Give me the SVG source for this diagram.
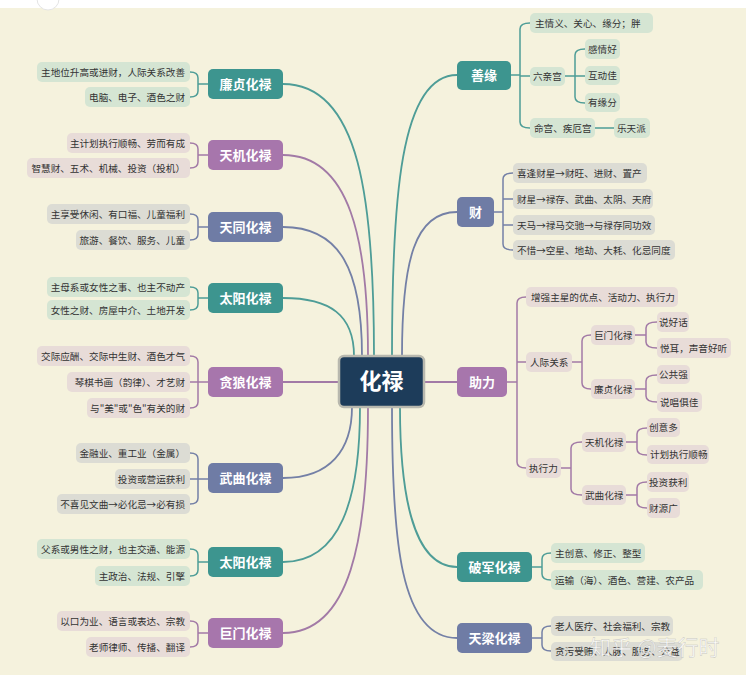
<svg xmlns="http://www.w3.org/2000/svg" width="746" height="675" viewBox="0 0 746 675">
<style>
text{font-family:"Noto Sans CJK SC","Noto Sans",sans-serif;}
.lf{font-size:9.6px;fill:#333;}
.nd{font-size:13px;font-weight:bold;fill:#fff;text-anchor:middle;}
.nt{fill:#3d958f;} .np{fill:#a776ac;} .ns{fill:#6f7ca5;}
.bt{fill:#d5e5d3;} .bp{fill:#e8dcd8;} .bs{fill:#dcdcd4;}
.ct{stroke:#4e9d97;} .cp{stroke:#a27aa6;} .cs{stroke:#7480a6;}
.c path{fill:none;stroke-width:1.8;}
.br path{fill:none;stroke-width:1.5;}
.e{text-anchor:end;}
</style>
<rect x="0" y="0" width="746" height="675" fill="#f5f2dd"/>
<rect x="0" y="0" width="746" height="8" fill="#ffffff"/>
<circle cx="48" cy="-1" r="11" fill="#ffffff" stroke="#e4e4e4" stroke-width="1"/>

<g id="connectors" class="c">
<path class="ct" d="M283,84 C360,84 374,200 374,356"/>
<path class="cp" d="M283,155 C350,155 368,240 368,356"/>
<path class="cs" d="M283,227 C340,227 362,270 362,356"/>
<path class="ct" d="M283,298 C330,298 354,315 354,356"/>
<path class="cp" d="M283,382 H339"/>
<path class="cs" d="M283,478 C330,478 352,450 352,407"/>
<path class="ct" d="M283,562 C340,562 360,500 360,407"/>
<path class="cp" d="M283,633 C350,633 368,540 368,407"/>
<path class="ct" d="M457,75 C400,75 392,200 392,356"/>
<path class="cs" d="M457,212 C415,212 402,260 402,356"/>
<path class="cp" d="M424,382 H457"/>
<path class="ct" d="M457,567 C412,567 400,490 400,407"/>
<path class="cs" d="M457,638 C400,638 392,540 392,407"/>
</g>

<g id="brackets" class="br">
<path class="ct" d="M190,72 Q198,72 198,78 V91 Q198,97 190,97 M198,84 H208"/>
<path class="cp" d="M190,143 Q198,143 198,149 V162 Q198,168 190,168 M198,155 H208"/>
<path class="cs" d="M190,214 Q198,214 198,220 V234 Q198,240 190,240 M198,227 H208"/>
<path class="ct" d="M190,287 Q198,287 198,293 V304 Q198,310 190,310 M198,298 H208"/>
<path class="cp" d="M190,356 Q198,356 198,362 V402 Q198,408 190,408 M190,382 H208"/>
<path class="cs" d="M190,453 Q198,453 198,459 V498 Q198,504 190,504 M190,479 H208"/>
<path class="ct" d="M190,549 Q198,549 198,555 V570 Q198,576 190,576 M198,562 H208"/>
<path class="cp" d="M190,621 Q198,621 198,627 V641 Q198,647 190,647 M198,633 H208"/>
<path class="ct" d="M511,75 H520 M530,23 Q520,23 520,29 V122 Q520,128 530,128 M520,76 H530 M565,76 H585 M585,49 Q575,49 575,55 V97 Q575,103 585,103 M595,128 H614"/>
<path class="cs" d="M494,212 H503 M513,173 Q503,173 503,179 V244 Q503,250 513,250 M503,199 H513 M503,225 H513"/>
<path class="cp" d="M507,382 H517 M526,297 Q517,297 517,303 V462 Q517,468 526,468 M517,362 H526 M572,362 H582 M591,335 Q582,335 582,341 V383 Q582,389 591,389 M635,335 H646 M657,322 Q646,322 646,328 V342 Q646,348 657,348 M635,389 H646 M657,375 Q646,375 646,381 V396 Q646,402 657,402 M561,468 H571 M582,442 Q571,442 571,448 V489 Q571,495 582,495 M626,442 H637 M647,428 Q637,428 637,434 V449 Q637,455 647,455 M626,495 H637 M647,482 Q637,482 637,488 V502 Q637,508 647,508"/>
<path class="ct" d="M532,567 H542 M551,553 Q542,553 542,559 V574 Q542,580 551,580"/>
<path class="cs" d="M532,638 H542 M551,626 Q542,626 542,632 V645 Q542,651 551,651"/>
</g>

<g id="center">
<rect x="339" y="356" width="85" height="51" rx="5" fill="#1d3c5a" stroke="#b8b8ae" stroke-width="2.5"/>
<text x="381.5" y="389" font-size="22" font-weight="bold" fill="#fff" text-anchor="middle">化禄</text>
</g>

<g id="lianzhen">
<rect class="nt" x="208" y="69" width="75" height="30" rx="5"/><text class="nd" x="245.5" y="89">廉贞化禄</text>
<rect class="bt" x="37" y="62" width="153" height="20" rx="5"/><text class="lf e" x="185" y="76">主地位升高或进财，人际关系改善</text>
<rect class="bt" x="85" y="87" width="105" height="20" rx="5"/><text class="lf e" x="185" y="101">电脑、电子、酒色之财</text>
</g>
<g id="tianji">
<rect class="np" x="208" y="140" width="75" height="30" rx="5"/><text class="nd" x="245.5" y="160">天机化禄</text>
<rect class="bp" x="67" y="133" width="123" height="20" rx="5"/><text class="lf e" x="185" y="147">主计划执行顺畅、劳而有成</text>
<rect class="bp" x="27" y="158" width="163" height="20" rx="5"/><text class="lf e" x="185" y="172">智慧财、五术、机械、投资（投机）</text>
</g>
<g id="tiantong">
<rect class="ns" x="208" y="212" width="75" height="30" rx="5"/><text class="nd" x="245.5" y="232">天同化禄</text>
<rect class="bs" x="47" y="204" width="143" height="20" rx="5"/><text class="lf e" x="185" y="218">主享受休闲、有口福、儿童福利</text>
<rect class="bs" x="76" y="230" width="114" height="20" rx="5"/><text class="lf e" x="185" y="244">旅游、餐饮、服务、儿童</text>
</g>
<g id="taiyang1">
<rect class="nt" x="208" y="283" width="75" height="30" rx="5"/><text class="nd" x="245.5" y="303">太阳化禄</text>
<rect class="bt" x="47" y="277" width="143" height="20" rx="5"/><text class="lf e" x="185" y="291">主母系或女性之事、也主不动产</text>
<rect class="bt" x="47" y="300" width="143" height="20" rx="5"/><text class="lf e" x="185" y="314">女性之财、房屋中介、土地开发</text>
</g>
<g id="tanlang">
<rect class="np" x="208" y="367" width="75" height="30" rx="5"/><text class="nd" x="245.5" y="387">贪狼化禄</text>
<rect class="bp" x="37" y="346" width="153" height="20" rx="5"/><text class="lf e" x="185" y="360">交际应酬、交际中生财、酒色才气</text>
<rect class="bp" x="67" y="372" width="123" height="20" rx="5"/><text class="lf e" x="185" y="386">琴棋书画（韵律）、才艺财</text>
<rect class="bp" x="87" y="398" width="103" height="20" rx="5"/><text class="lf e" x="185" y="412">与&quot;美&quot;或&quot;色&quot;有关的财</text>
</g>
<g id="wuqu">
<rect class="ns" x="208" y="463" width="75" height="30" rx="5"/><text class="nd" x="245.5" y="483">武曲化禄</text>
<rect class="bs" x="76" y="443" width="114" height="20" rx="5"/><text class="lf e" x="185" y="457">金融业、重工业（金属）</text>
<rect class="bs" x="115" y="469" width="75" height="20" rx="5"/><text class="lf e" x="185" y="483">投资或营运获利</text>
<rect class="bs" x="57" y="494" width="133" height="20" rx="5"/><text class="lf e" x="185" y="508">不喜见文曲→必化忌→必有损</text>
</g>
<g id="taiyang2">
<rect class="nt" x="208" y="547" width="75" height="30" rx="5"/><text class="nd" x="245.5" y="567">太阳化禄</text>
<rect class="bt" x="37" y="539" width="153" height="20" rx="5"/><text class="lf e" x="185" y="553">父系或男性之财，也主交通、能源</text>
<rect class="bt" x="95" y="566" width="95" height="20" rx="5"/><text class="lf e" x="185" y="580">主政治、法规、引擎</text>
</g>
<g id="jumen">
<rect class="np" x="208" y="618" width="75" height="30" rx="5"/><text class="nd" x="245.5" y="638">巨门化禄</text>
<rect class="bp" x="57" y="611" width="133" height="20" rx="5"/><text class="lf e" x="185" y="625">以口为业、语言或表达、宗教</text>
<rect class="bp" x="86" y="637" width="104" height="20" rx="5"/><text class="lf e" x="185" y="651">老师律师、传播、翻译</text>
</g>

<g id="shanyuan">
<rect class="nt" x="457" y="61" width="54" height="29" rx="5"/><text class="nd" x="484" y="80">善缘</text>
<rect class="bt" x="530" y="13" width="123" height="20" rx="5"/><text class="lf" x="535" y="27">主情义、关心、缘分；胖</text>
<rect class="bt" x="530" y="67" width="35" height="19" rx="5"/><text class="lf" x="533" y="80">六亲宫</text>
<rect class="bt" x="585" y="39" width="35" height="20" rx="5"/><text class="lf" x="588" y="53">感情好</text>
<rect class="bt" x="585" y="66" width="35" height="19" rx="5"/><text class="lf" x="588" y="79">互动佳</text>
<rect class="bt" x="585" y="93" width="35" height="19" rx="5"/><text class="lf" x="588" y="106">有缘分</text>
<rect class="bt" x="530" y="118" width="65" height="20" rx="5"/><text class="lf" x="534" y="132">命宫、疾厄宫</text>
<rect class="bt" x="614" y="118" width="36" height="20" rx="5"/><text class="lf" x="617" y="132">乐天派</text>
</g>
<g id="cai">
<rect class="ns" x="457" y="197" width="37" height="30" rx="5"/><text class="nd" x="475.5" y="217">财</text>
<rect class="bs" x="513" y="163" width="134" height="20" rx="5"/><text class="lf" x="517" y="177">喜逢财星→财旺、进财、置产</text>
<rect class="bs" x="513" y="189" width="140" height="20" rx="5"/><text class="lf" x="517" y="203">财星→禄存、武曲、太阴、天府</text>
<rect class="bs" x="513" y="215" width="142" height="20" rx="5"/><text class="lf" x="517" y="229">天马→禄马交驰→与禄存同功效</text>
<rect class="bs" x="513" y="240" width="162" height="20" rx="5"/><text class="lf" x="517" y="254">不惜→空星、地劫、大耗、化忌同度</text>
</g>
<g id="zhuli">
<rect class="np" x="457" y="367" width="50" height="30" rx="5"/><text class="nd" x="482" y="387">助力</text>
<rect class="bp" x="526" y="287" width="152" height="20" rx="5"/><text class="lf" x="531" y="301">增强主星的优点、活动力、执行力</text>
<rect class="bp" x="526" y="352" width="46" height="20" rx="5"/><text class="lf" x="530" y="366">人际关系</text>
<rect class="bp" x="591" y="325" width="44" height="20" rx="5"/><text class="lf" x="594" y="339">巨门化禄</text>
<rect class="bp" x="591" y="379" width="44" height="20" rx="5"/><text class="lf" x="594" y="393">廉贞化禄</text>
<rect class="bp" x="657" y="312" width="32" height="20" rx="5"/><text class="lf" x="659" y="326">说好话</text>
<rect class="bp" x="657" y="338" width="74" height="20" rx="5"/><text class="lf" x="660" y="352">悦耳，声音好听</text>
<rect class="bp" x="657" y="365" width="33" height="19" rx="5"/><text class="lf" x="659" y="378">公共强</text>
<rect class="bp" x="657" y="392" width="45" height="20" rx="5"/><text class="lf" x="660" y="406">说唱俱佳</text>
<rect class="bp" x="526" y="458" width="35" height="20" rx="5"/><text class="lf" x="529" y="472">执行力</text>
<rect class="bp" x="582" y="432" width="44" height="20" rx="5"/><text class="lf" x="585" y="446">天机化禄</text>
<rect class="bp" x="582" y="485" width="44" height="20" rx="5"/><text class="lf" x="585" y="499">武曲化禄</text>
<rect class="bp" x="647" y="418" width="33" height="19" rx="5"/><text class="lf" x="649" y="431">创意多</text>
<rect class="bp" x="647" y="445" width="62" height="19" rx="5"/><text class="lf" x="650" y="458">计划执行顺畅</text>
<rect class="bp" x="647" y="472" width="42" height="20" rx="5"/><text class="lf" x="649" y="486">投资获利</text>
<rect class="bp" x="647" y="498" width="33" height="20" rx="5"/><text class="lf" x="649" y="512">财源广</text>
</g>
<g id="pojun">
<rect class="nt" x="457" y="552" width="75" height="30" rx="5"/><text class="nd" x="494.5" y="572">破军化禄</text>
<rect class="bt" x="551" y="543" width="94" height="20" rx="5"/><text class="lf" x="555" y="557">主创意、修正、整型</text>
<rect class="bt" x="551" y="570" width="152" height="20" rx="5"/><text class="lf" x="555" y="584">运输（海）、酒色、营建、农产品</text>
</g>
<g id="tianliang">
<rect class="ns" x="457" y="623" width="75" height="30" rx="5"/><text class="nd" x="494.5" y="643">天梁化禄</text>
<rect class="bs" x="551" y="616" width="122" height="20" rx="5"/><text class="lf" x="555" y="630">老人医疗、社会福利、宗教</text>
<rect class="bs" x="551" y="642" width="132" height="19" rx="5"/><text class="lf" x="555" y="655">贪污受贿、人脉、服务、公益</text>
</g>
<text x="590" y="655" font-size="21" fill="#ffffff" fill-opacity="0.8" stroke="#9a9a9a" stroke-width="0.4" stroke-opacity="0.6">知乎 @麦行时</text>
</svg>
